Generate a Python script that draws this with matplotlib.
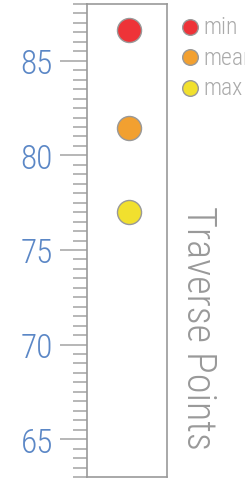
import matplotlib
matplotlib.use("Agg")
import matplotlib.pyplot as plt
from matplotlib.ticker import MultipleLocator
from matplotlib import font_manager as fm

series = ["min", "mean", "max"]
values = [86.6, 81.45, 77.0]
colors = ["#ee3338", "#f2a030", "#f1e02e"]
yticks = [65, 70, 75, 80, 85]

installed = {f.name for f in fm.fontManager.ttflist}
fam = [n for n in ['Roboto Condensed', 'Roboto'] if n in installed] + ['DejaVu Sans']
plt.rcParams['font.family'] = fam
W = 300

fig = plt.figure(figsize=(2.45, 4.81), dpi=100)
ax = fig.add_axes([87/245, 3/481, 80/245, 473/481])

for name, v, c in zip(series, values, colors):
    ax.scatter([0.05], [v], s=300, color=c, edgecolors="#999999", linewidths=1.0,
               label=name, zorder=3)

ax.set_xlim(-1, 1)
ax.set_ylim(63, 88)
ax.set_xticks([])
ax.set_yticks(yticks)
ax.yaxis.set_minor_locator(MultipleLocator(0.5))
ax.tick_params(axis='y', which='major', length=19.5, width=1.2, color="#aaaaaa",
               labelcolor="#5b87c6", labelsize=24, pad=5)
ax.tick_params(axis='y', which='minor', length=10, width=1.2, color="#aaaaaa")
for lab in ax.get_yticklabels():
    lab.set_fontweight(W)
for s in ax.spines.values():
    s.set_color("#999999")
    s.set_linewidth(1.2)

leg = ax.legend(loc="upper left", bbox_to_anchor=(1.1875, 0.977), frameon=False,
                handlelength=0.7, handletextpad=0.22, labelspacing=0.33,
                borderaxespad=0, borderpad=0,
                prop={'size': 17, 'weight': W}, markerscale=0.65)
for t in leg.get_texts():
    t.set_color("#aaaaaa")

fig.text(198/245, 1 - 328/481, "Traverse Points", rotation=270, ha="center", va="center",
         fontsize=29, color="#999999", fontweight=W)

fig.savefig("out.png", dpi=100)
